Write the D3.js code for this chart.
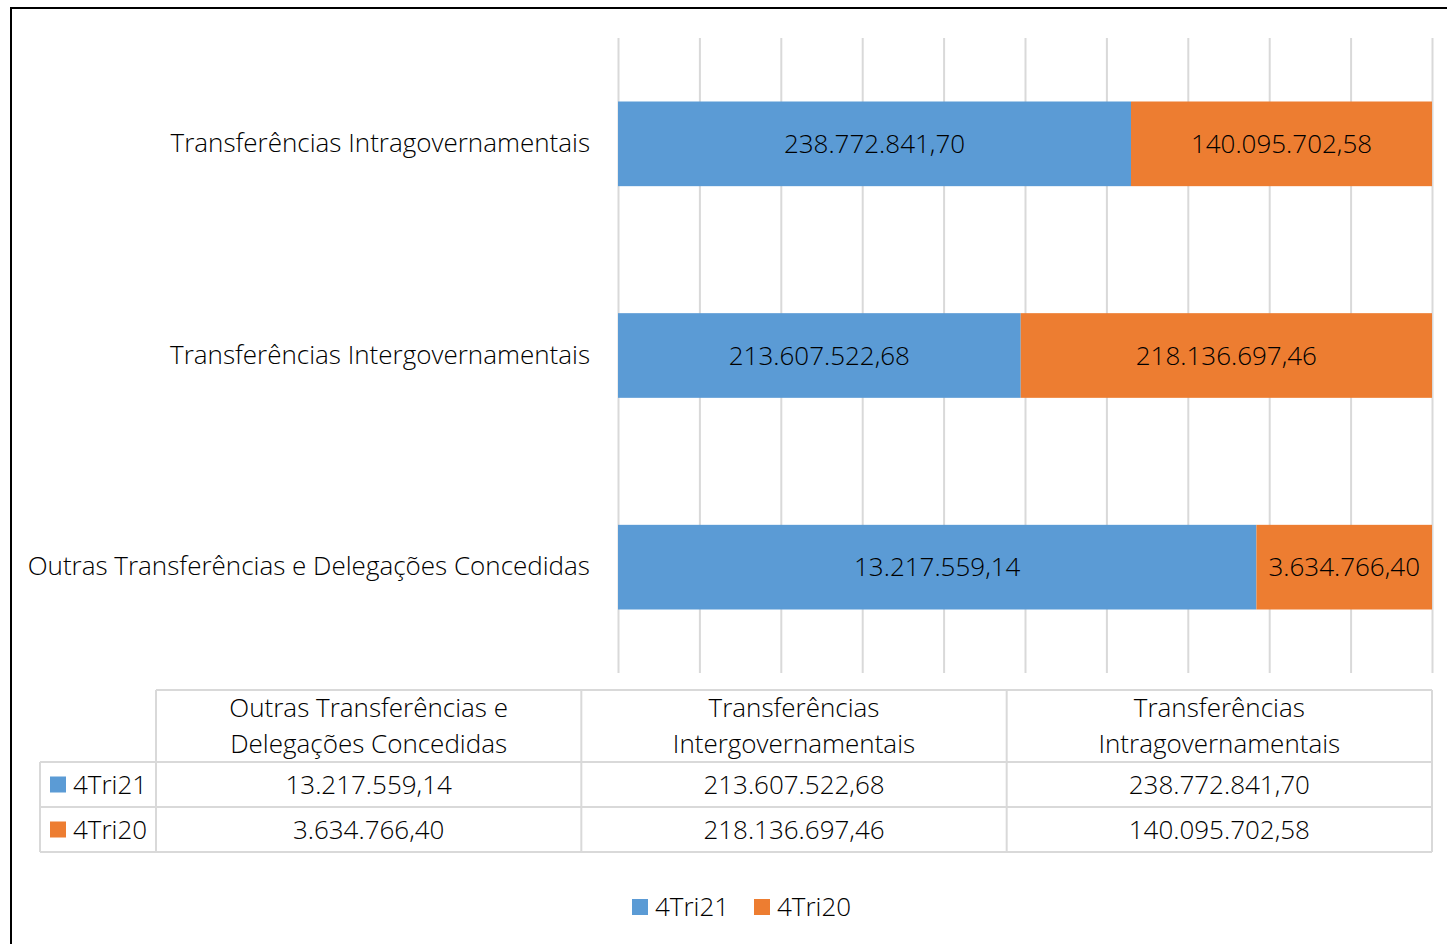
<!DOCTYPE html>
<html>
<head>
<meta charset="utf-8">
<script src="https://cdn.jsdelivr.net/npm/d3@7"></script>
<style>
  body { margin: 0; background: #fff; }
  svg { display: block; font-family: "Open Sans", Lato, sans-serif; font-weight: 300; }
</style>
</head>
<body>
<div id="chart"></div>
<script>
// DATA ______________________________
const categories = ["Outras Transferências e Delegações Concedidas", "Transferências Intergovernamentais", "Transferências Intragovernamentais"]
const headerLines = [["Outras Transferências e", "Delegações Concedidas"], ["Transferências", "Intergovernamentais"], ["Transferências", "Intragovernamentais"]]
const seriesNames = ["4Tri21", "4Tri20"]
const values4Tri21 = [13217559.14, 213607522.68, 238772841.70]
const values4Tri20 = [3634766.40, 218136697.46, 140095702.58]
const colors = ["#5B9BD5", "#ED7D31"]

const rows = categories.map((c, i) => ({cat: c, "4Tri21": values4Tri21[i], "4Tri20": values4Tri20[i]}))

const ptBR = d3.formatLocale({decimal: ",", thousands: ".", grouping: [3], currency: ["R$", ""]})
const fmt = ptBR.format(",.2f")

// SET UP SVG _________________________
const W = 1447, H = 944
const plot = {left: 618, right: 1432, top: 38, bottom: 673}
const fontSize = 26

const svg = d3.select("#chart").append("svg")
    .attr("width", W)
    .attr("height", H)

// outer frame
svg.append("rect")
    .attr("x", 11).attr("y", 8)
    .attr("width", W + 20).attr("height", H + 20)
    .attr("fill", "none")
    .attr("stroke", "#000")
    .attr("stroke-width", 2)

// scales
const x = d3.scaleLinear().domain([0, 1]).range([plot.left, plot.right])
const y = d3.scaleBand()
    .domain(categories.slice().reverse())
    .range([plot.top, plot.bottom])
    .paddingInner(0.6)
    .paddingOuter(0.3)
const color = d3.scaleOrdinal().domain(seriesNames).range(colors)

// gridlines
svg.append("g")
    .attr("transform", `translate(0,${plot.bottom})`)
    .call(d3.axisBottom(x).ticks(10).tickSize(-(plot.bottom - plot.top)).tickFormat(""))
    .call(g => g.select(".domain").remove())
    .call(g => g.selectAll(".tick line").attr("stroke", "#d9d9d9").attr("stroke-width", 2))

// category labels
svg.append("g")
    .attr("transform", `translate(${plot.left - 28},0)`)
    .call(d3.axisLeft(y).tickSize(0).tickPadding(0))
    .call(g => g.select(".domain").remove())
    .call(g => g.selectAll("text")
        .attr("font-size", fontSize)
        .attr("font-family", "'Open Sans', sans-serif")
        .attr("fill", "#000"))

// stacked bars (100%)
const stacked = d3.stack().keys(seriesNames).offset(d3.stackOffsetExpand)(rows)

const layers = svg.append("g").selectAll("g")
    .data(stacked)
    .join("g")
    .attr("fill", d => color(d.key))

layers.selectAll("rect")
    .data(d => d.map(p => Object.assign(p, {key: d.key})))
    .join("rect")
    .attr("x", d => x(d[0]))
    .attr("y", d => y(d.data.cat))
    .attr("width", d => x(d[1]) - x(d[0]))
    .attr("height", y.bandwidth())

layers.selectAll("text")
    .data(d => d)
    .join("text")
    .attr("x", d => (x(d[0]) + x(d[1])) / 2)
    .attr("y", d => y(d.data.cat) + y.bandwidth() / 2)
    .attr("dy", "0.35em")
    .attr("text-anchor", "middle")
    .attr("font-size", fontSize)
    .attr("fill", "#000")
    .text(d => fmt(d.data[d.key]))

// DATA TABLE _________________________
const tbl = {left: 40, keyRight: 156, right: 1432, top: 690, head: 762, row1: 807, row2: 852}
const col = d3.scaleBand().domain(categories).range([tbl.keyRight, tbl.right])
const rowY = d3.scaleBand().domain(seriesNames).range([tbl.head, tbl.row2])
const lineColor = "#d9d9d9"

const table = svg.append("g")

// horizontal lines
table.append("line").attr("x1", tbl.keyRight).attr("x2", tbl.right).attr("y1", tbl.top).attr("y2", tbl.top)
table.selectAll(".hline")
    .data([tbl.head, tbl.row1, tbl.row2])
    .join("line")
    .attr("x1", tbl.left).attr("x2", tbl.right)
    .attr("y1", d => d).attr("y2", d => d)
// vertical lines
table.append("line").attr("x1", tbl.left).attr("x2", tbl.left).attr("y1", tbl.head).attr("y2", tbl.row2)
table.selectAll(".vline")
    .data(categories.map(c => col(c)).concat([tbl.right]))
    .join("line")
    .attr("x1", d => d).attr("x2", d => d)
    .attr("y1", tbl.top).attr("y2", tbl.row2)
table.selectAll("line").attr("stroke", lineColor).attr("stroke-width", 2)

// header text
table.selectAll(".head")
    .data(categories)
    .join("text")
    .attr("x", d => col(d) + col.bandwidth() / 2)
    .attr("y", 708)
    .attr("text-anchor", "middle")
    .attr("font-size", fontSize)
    .selectAll("tspan")
    .data((d, i) => headerLines[i])
    .join("tspan")
    .attr("x", function () { return this.parentNode.getAttribute("x") })
    .attr("dy", (d, i) => i === 0 ? "0.35em" : "1.38em")
    .text(d => d)

// row keys and values
seriesNames.forEach((s, si) => {
    const cy = rowY(s) + rowY.bandwidth() / 2
    table.append("rect")
        .attr("x", 50).attr("y", cy - 8)
        .attr("width", 16).attr("height", 16)
        .attr("fill", color(s))
    table.append("text")
        .attr("x", 73).attr("y", cy).attr("dy", "0.35em")
        .attr("font-size", fontSize)
        .text(s)
    const vals = si === 0 ? values4Tri21 : values4Tri20
    table.selectAll(".v" + si)
        .data(vals)
        .join("text")
        .attr("x", (d, i) => col(categories[i]) + col.bandwidth() / 2)
        .attr("y", cy).attr("dy", "0.35em")
        .attr("text-anchor", "middle")
        .attr("font-size", fontSize)
        .text(d => fmt(d))
})

// LEGEND _____________________________
const legend = svg.append("g").attr("transform", "translate(632,907)")
const legX = d3.scalePoint().domain(seriesNames).range([0, 122])
legend.selectAll("g")
    .data(seriesNames)
    .join("g")
    .attr("transform", d => `translate(${legX(d)},0)`)
    .call(g => g.append("rect").attr("y", -8).attr("width", 16).attr("height", 16).attr("fill", d => color(d)))
    .call(g => g.append("text").attr("x", 23).attr("dy", "0.35em").attr("font-size", fontSize).text(d => d))
</script>
</body>
</html>
